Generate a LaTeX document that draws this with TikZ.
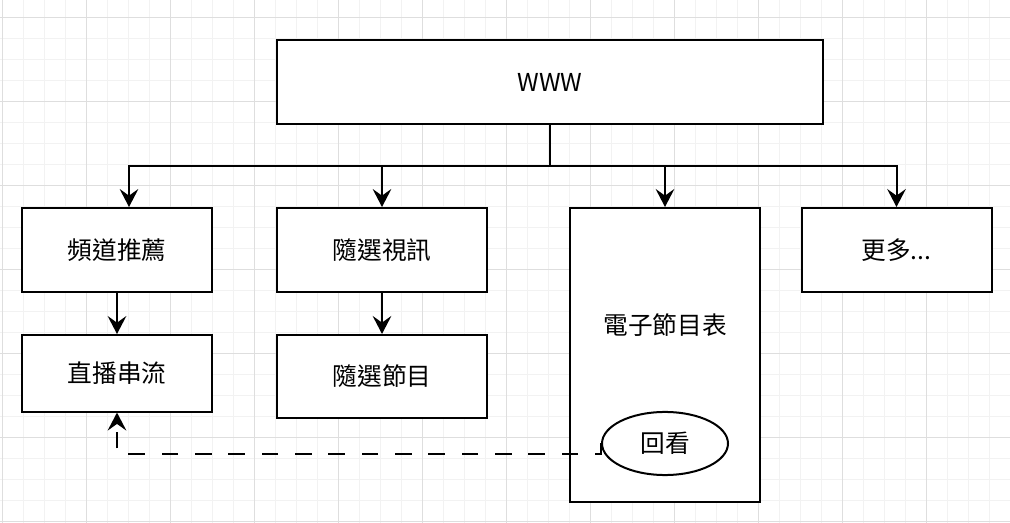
\documentclass[tikz,border=0pt]{standalone}
\usepackage{fontspec}
\setmainfont{Noto Sans CJK TC}
\usetikzlibrary{arrows.meta,shapes.geometric}
\definecolor{gridminor}{HTML}{F2F2F2}
\definecolor{gridmajor}{HTML}{DEDEDE}
\begin{document}
\begin{tikzpicture}[x=0.75pt, y=-0.75pt,
  every node/.style={font=\fontsize{18.5pt}{22pt}\selectfont},
  box/.style={draw, line width=1.5pt, fill=white, minimum width=142.5pt, minimum height=63pt},
  link/.style={line width=1.5pt, -{Stealth[length=13.5pt, width=14pt, inset=5pt]}}]
\useasboundingbox (0,0) rectangle (1010,523);
\fill[white] (0,0) rectangle (1010,523);

% background grid
\foreach \k in {0,...,48} \draw[gridminor, line width=0.75pt] (2.5+21*\k,0) -- (2.5+21*\k,523);
\foreach \k in {-1,...,24} \draw[gridminor, line width=0.75pt] (0,17.3+21*\k) -- (1010,17.3+21*\k);
\foreach \k in {0,...,12} \draw[gridmajor, line width=0.75pt] (2.5+84*\k,0) -- (2.5+84*\k,523);
\foreach \k in {0,...,6} \draw[gridmajor, line width=0.75pt] (0,17.3+84*\k) -- (1010,17.3+84*\k);

\node[box, minimum width=409.5pt] (www) at (550,82) {WWW};
\node[box] (chan) at (117,250) {頻道推薦};
\node[box, minimum width=157.5pt] (vod) at (382,250) {隨選視訊};
\node[box, minimum height=220.5pt] (epg) at (665,355) {};
\node (epgtext) at (665,325) {電子節目表};
\node[box] (more) at (896.5,250) {更多...};
\node[box, minimum height=57.4pt] (live) at (117,373.3) {直播串流};
\node[box, minimum width=157.5pt, minimum height=62.3pt] (prog) at (382,376.5) {隨選節目};
\node[draw, ellipse, line width=1.5pt, fill=white, minimum width=94.5pt, minimum height=47.3pt] (rev) at (665,443.5) {回看};

\coordinate (bus) at (550,166.5);
\draw[line width=1.5pt] (www.south) -- (bus);
\draw[link] (bus) -| ([xshift=9pt]chan.north);
\draw[link] (bus) -| (vod.north);
\draw[link] (bus) -| (epg.north);
\draw[link] (bus) -| (more.north);
\draw[link] (chan.south) -- (live.north);
\draw[link] (vod.south) -- (prog.north);

\coordinate (back) at (117,454);
\draw[link, dash pattern=on 12.5pt off 12.5pt] (rev.west) |- (back) -- (live.south);
\end{tikzpicture}
\end{document}
